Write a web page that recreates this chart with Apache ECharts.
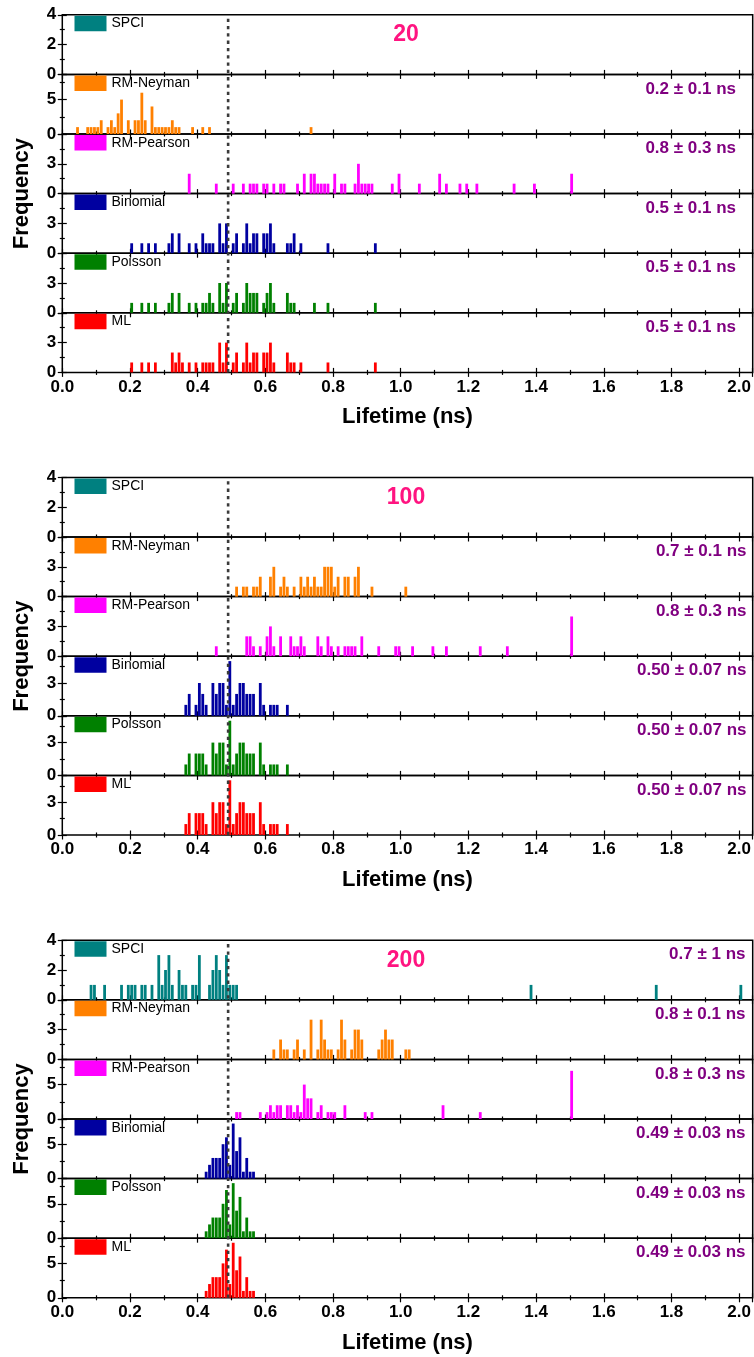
<!DOCTYPE html>
<html>
<head>
<meta charset="utf-8">
<script src="https://cdn.jsdelivr.net/npm/echarts@6/dist/echarts.min.js"></script>
<style>
  html, body { margin: 0; padding: 0; background: #fff; }
  #chart { width: 754px; height: 1357px; }
</style>
</head>
<body>
<div id="chart"></div>
<script>
// Lifetime histograms (bin width 0.01 ns) for six fitting methods at three photon counts.
const methods = ['SPCI', 'RM-Neyman', 'RM-Pearson', 'Binomial', 'Poisson', 'ML'];
const methodColors = ['#008080', '#FF8000', '#FF00FF', '#0000A0', '#008000', '#FF0000'];
const photonCounts = ['20', '100', '200'];
const xTickStep = 0.2;
const xMaxValue = 2.04;
const refLifetime = 0.49;

// [lifetime bin centre (ns), frequency]
const spci20 = [];
const neyman20 = [[0.045,1],[0.075,1],[0.085,1],[0.095,1],[0.105,1],[0.115,2],[0.135,1],[0.145,2],[0.155,1],[0.165,3],[0.175,5],[0.195,2],[0.215,2],[0.225,2],[0.235,6],[0.245,2],[0.265,4],[0.275,1],[0.285,1],[0.295,1],[0.305,1],[0.315,1],[0.325,2],[0.335,1],[0.345,1],[0.385,1],[0.415,1],[0.435,1],[0.735,1]];
const pearson20 = [[0.375,2],[0.455,1],[0.505,1],[0.535,1],[0.555,1],[0.565,1],[0.575,1],[0.595,1],[0.605,1],[0.625,1],[0.645,1],[0.655,1],[0.695,1],[0.715,2],[0.735,2],[0.745,2],[0.755,1],[0.765,1],[0.775,1],[0.785,1],[0.805,2],[0.825,1],[0.835,1],[0.865,1],[0.875,3],[0.885,1],[0.895,1],[0.905,1],[0.915,1],[0.975,1],[0.995,2],[1.055,1],[1.115,2],[1.135,1],[1.175,1],[1.195,1],[1.225,1],[1.335,1],[1.395,1],[1.505,2]];
const binom20 = [[0.205,1],[0.235,1],[0.255,1],[0.275,1],[0.315,1],[0.325,2],[0.345,2],[0.375,1],[0.395,1],[0.415,2],[0.425,1],[0.435,1],[0.445,1],[0.465,3],[0.475,1],[0.485,3],[0.505,1],[0.515,2],[0.535,1],[0.545,3],[0.555,1],[0.565,2],[0.575,2],[0.595,2],[0.605,2],[0.615,3],[0.625,1],[0.665,1],[0.675,1],[0.685,2],[0.705,1],[0.785,1],[0.925,1]];
const poisson20 = [[0.205,1],[0.235,1],[0.255,1],[0.275,1],[0.315,1],[0.325,2],[0.345,2],[0.375,1],[0.395,1],[0.415,1],[0.425,1],[0.435,2],[0.445,1],[0.465,3],[0.475,1],[0.485,3],[0.505,1],[0.515,2],[0.535,1],[0.545,3],[0.555,2],[0.565,2],[0.575,2],[0.595,1],[0.605,2],[0.615,3],[0.625,1],[0.665,2],[0.675,1],[0.685,1],[0.745,1],[0.785,1],[0.925,1]];
const ml20 = [[0.205,1],[0.235,1],[0.255,1],[0.275,1],[0.325,2],[0.335,1],[0.345,2],[0.355,1],[0.375,1],[0.395,1],[0.415,1],[0.425,1],[0.435,1],[0.445,1],[0.465,3],[0.475,1],[0.485,3],[0.505,1],[0.515,2],[0.535,1],[0.545,3],[0.555,1],[0.565,2],[0.575,2],[0.595,2],[0.605,2],[0.615,3],[0.625,1],[0.665,2],[0.675,1],[0.685,1],[0.705,1],[0.785,1],[0.925,1]];

const spci100 = [];
const neyman100 = [[0.515,1],[0.535,1],[0.545,1],[0.565,1],[0.575,1],[0.585,2],[0.615,2],[0.625,3],[0.645,1],[0.655,2],[0.665,1],[0.685,1],[0.705,2],[0.715,1],[0.725,2],[0.735,1],[0.745,2],[0.755,1],[0.765,1],[0.775,3],[0.785,3],[0.795,3],[0.805,1],[0.815,2],[0.835,2],[0.845,2],[0.865,2],[0.875,3],[0.915,1],[1.015,1]];
const pearson100 = [[0.455,1],[0.545,2],[0.555,2],[0.565,1],[0.585,1],[0.605,2],[0.615,3],[0.625,1],[0.645,2],[0.675,2],[0.685,1],[0.695,1],[0.705,2],[0.715,1],[0.755,2],[0.765,1],[0.785,2],[0.795,1],[0.815,1],[0.835,1],[0.845,1],[0.855,1],[0.865,1],[0.885,2],[0.935,1],[0.985,1],[0.995,1],[1.035,1],[1.095,1],[1.135,1],[1.235,1],[1.315,1],[1.505,4]];
const binom100 = [[0.365,1],[0.375,2],[0.395,1],[0.405,3],[0.415,2],[0.425,1],[0.445,3],[0.455,2],[0.465,3],[0.475,3],[0.485,1],[0.495,5],[0.505,1],[0.515,2],[0.525,3],[0.535,3],[0.545,2],[0.555,2],[0.565,2],[0.585,3],[0.595,1],[0.615,1],[0.625,1],[0.635,1],[0.665,1]];
const poisson100 = [[0.365,1],[0.375,2],[0.395,2],[0.405,2],[0.415,2],[0.425,1],[0.445,3],[0.455,2],[0.465,3],[0.475,3],[0.485,1],[0.495,5],[0.505,1],[0.515,2],[0.525,3],[0.535,3],[0.545,2],[0.555,2],[0.565,2],[0.585,3],[0.595,1],[0.615,1],[0.625,1],[0.635,1],[0.665,1]];
const ml100 = [[0.365,1],[0.375,2],[0.395,2],[0.405,2],[0.415,2],[0.425,1],[0.445,3],[0.455,2],[0.465,3],[0.475,3],[0.485,1],[0.495,5],[0.505,1],[0.515,2],[0.525,3],[0.535,3],[0.545,2],[0.555,2],[0.565,2],[0.585,3],[0.595,1],[0.615,1],[0.625,1],[0.635,1],[0.665,1]];

const spci200 = [[0.085,1],[0.095,1],[0.125,1],[0.175,1],[0.195,1],[0.205,1],[0.215,1],[0.235,1],[0.245,1],[0.265,1],[0.285,3],[0.295,1],[0.305,2],[0.315,3],[0.325,1],[0.345,2],[0.355,1],[0.365,1],[0.385,1],[0.395,1],[0.405,3],[0.435,1],[0.445,2],[0.455,3],[0.465,2],[0.475,1],[0.485,3],[0.495,1],[0.505,1],[0.515,1],[1.385,1],[1.755,1],[2.005,1]];
const neyman200 = [[0.625,1],[0.645,2],[0.655,1],[0.665,1],[0.685,1],[0.695,2],[0.715,1],[0.735,4],[0.755,1],[0.765,4],[0.775,2],[0.785,1],[0.795,1],[0.815,1],[0.825,4],[0.835,2],[0.855,1],[0.865,3],[0.875,3],[0.885,2],[0.935,1],[0.945,2],[0.955,3],[0.965,2],[0.975,2],[1.015,1],[1.025,1]];
const pearson200 = [[0.515,1],[0.525,1],[0.585,1],[0.605,1],[0.615,2],[0.625,1],[0.635,2],[0.645,2],[0.665,2],[0.675,2],[0.685,1],[0.695,2],[0.705,1],[0.715,5],[0.725,3],[0.735,3],[0.755,1],[0.765,2],[0.785,1],[0.795,1],[0.805,1],[0.835,2],[0.895,1],[0.915,1],[1.125,2],[1.235,1],[1.505,7]];
const binom200 = [[0.425,1],[0.435,2],[0.445,3],[0.455,3],[0.465,3],[0.475,5],[0.485,6],[0.495,2],[0.505,8],[0.515,4],[0.525,6],[0.535,1],[0.545,3],[0.555,1],[0.565,1]];
const poisson200 = [[0.425,1],[0.435,2],[0.445,3],[0.455,3],[0.465,3],[0.475,5],[0.485,7],[0.495,2],[0.505,8],[0.515,4],[0.525,6],[0.535,1],[0.545,3],[0.555,1],[0.565,1]];
const ml200 = [[0.425,1],[0.435,2],[0.445,3],[0.455,3],[0.465,3],[0.475,5],[0.485,7],[0.495,2],[0.505,8],[0.515,4],[0.525,6],[0.535,1],[0.545,3],[0.555,1],[0.565,1]];

const panelData = [
  [spci20, neyman20, pearson20, binom20, poisson20, ml20],
  [spci100, neyman100, pearson100, binom100, poisson100, ml100],
  [spci200, neyman200, pearson200, binom200, poisson200, ml200]
];

// Fitted lifetimes, one per method (empty where no result is quoted)
const fitText = [
  ['', '0.2 ± 0.1 ns', '0.8 ± 0.3 ns', '0.5 ± 0.1 ns', '0.5 ± 0.1 ns', '0.5 ± 0.1 ns'],
  ['', '0.7 ± 0.1 ns', '0.8 ± 0.3 ns', '0.50 ± 0.07 ns', '0.50 ± 0.07 ns', '0.50 ± 0.07 ns'],
  ['0.7 ± 1 ns', '0.8 ± 0.1 ns', '0.8 ± 0.3 ns', '0.49 ± 0.03 ns', '0.49 ± 0.03 ns', '0.49 ± 0.03 ns']
];

// Frequency axis ranges and tick steps per sub-plot
const yMax = [
  [4, 8.66, 6, 6, 6, 6],
  [4, 6, 6, 5.45, 5.45, 5.45],
  [4, 6, 8.66, 8.66, 8.66, 8.66]
];
const yStep = [
  [2, 5, 3, 3, 3, 3],
  [2, 3, 3, 3, 3, 3],
  [2, 3, 5, 5, 5, 5]
];

// ---- layout ----
const FONT = '"Liberation Sans", Arial, Helvetica, sans-serif';
const plotLeft = 62.3;
const plotWidth = 690.4;
const panelTops = [14.8, 477.4, 940.2];
const panelHeight = 357.6;
const subHeight = panelHeight / 6;
const fitRight = [736, 746.5, 745.5];
const countLabelX = 406;

const grids = [], xAxes = [], yAxes = [], series = [], legends = [], graphics = [];

const tickStyle = { color: '#000', width: 1.2 };

panelData.forEach((panel, pi) => {
  const panelTop = panelTops[pi];
  panel.forEach((bins, mi) => {
    const g = grids.length;
    const top = panelTop + mi * subHeight;
    const isBottom = mi === methods.length - 1;
    grids.push({
      left: plotLeft, top: top, width: plotWidth, height: subHeight,
      show: true, borderColor: '#000', borderWidth: 1.5, backgroundColor: 'transparent'
    });
    const xBase = {
      type: 'value', gridIndex: g, min: 0, max: xMaxValue, interval: xTickStep,
      axisLine: { show: false },
      axisTick: { show: true, inside: true, length: 4.5, lineStyle: tickStyle },
      minorTick: { show: true, splitNumber: 2, length: 2.5, lineStyle: tickStyle },
      splitLine: { show: false }, minorSplitLine: { show: false }
    };
    const xIndex = xAxes.length;
    xAxes.push(Object.assign({}, xBase, {
      position: 'bottom',
      axisLabel: {
        show: isBottom, showMaxLabel: false, margin: 6,
        formatter: v => v.toFixed(1),
        fontFamily: FONT, fontWeight: 'bold', fontSize: 17, color: '#000'
      }
    }));
    xAxes.push(Object.assign({}, xBase, { position: 'top', axisLabel: { show: false } }));
    const yBase = {
      type: 'value', gridIndex: g, min: 0, max: yMax[pi][mi], interval: yStep[pi][mi],
      axisLine: { show: false },
      axisTick: { show: true, inside: true, length: 4.5, lineStyle: tickStyle },
      minorTick: { show: true, splitNumber: 2, length: 2.5, lineStyle: tickStyle },
      splitLine: { show: false }, minorSplitLine: { show: false }
    };
    const yIndex = yAxes.length;
    yAxes.push(Object.assign({}, yBase, {
      position: 'left',
      axisLabel: {
        show: true, showMaxLabel: mi === 0, margin: 6,
        formatter: v => (Number.isInteger(v) ? String(v) : ''),
        fontFamily: FONT, fontWeight: 'bold', fontSize: 17, color: '#000'
      }
    }));
    yAxes.push(Object.assign({}, yBase, { position: 'right', axisLabel: { show: false } }));

    series.push({
      type: 'bar', name: methods[mi],
      xAxisIndex: xIndex, yAxisIndex: yIndex,
      data: bins, barWidth: 2.8,
      itemStyle: { color: methodColors[mi] },
      silent: true
    });

    legends.push({
      data: [methods[mi]], left: plotLeft + 12.2, top: top + 1,
      itemWidth: 32, itemHeight: 15.5, icon: 'rect', padding: 0,
      selectedMode: false,
      textStyle: { fontFamily: FONT, fontSize: 14, color: '#000' }
    });

    if (fitText[pi][mi]) {
      graphics.push({
        type: 'text', z: 100,
        style: {
          text: fitText[pi][mi], x: fitRight[pi], y: top + 14.5,
          align: 'right', verticalAlign: 'middle',
          font: 'bold 17px ' + FONT, fill: '#800080'
        }
      });
    }
  });

  // full-height overlay per panel: axis titles and the reference lifetime line
  const og = grids.length;
  grids.push({ left: plotLeft, top: panelTop, width: plotWidth, height: panelHeight, show: false });
  const oxIndex = xAxes.length;
  xAxes.push({
    type: 'value', gridIndex: og, min: 0, max: xMaxValue,
    axisLine: { show: false }, axisTick: { show: false }, axisLabel: { show: false },
    splitLine: { show: false },
    name: 'Lifetime (ns)', nameLocation: 'middle', nameGap: 34,
    nameTextStyle: { fontFamily: FONT, fontWeight: 'bold', fontSize: 22, color: '#000' }
  });
  const oyIndex = yAxes.length;
  yAxes.push({
    type: 'value', gridIndex: og, min: 0, max: 1,
    axisLine: { show: false }, axisTick: { show: false }, axisLabel: { show: false },
    splitLine: { show: false },
    name: 'Frequency', nameLocation: 'middle', nameGap: 29, nameRotate: 90,
    nameTextStyle: { fontFamily: FONT, fontWeight: 'bold', fontSize: 22, color: '#000' }
  });
  series.push({
    type: 'line', xAxisIndex: oxIndex, yAxisIndex: oyIndex,
    data: [[refLifetime, 0], [refLifetime, 1]], symbol: 'none', silent: true, z: 20,
    lineStyle: { color: '#3a3a3a', width: 2.6, type: [3.3, 4], cap: 'butt' }
  });

  graphics.push({
    type: 'text', z: 100,
    style: {
      text: photonCounts[pi], x: countLabelX, y: panelTop + 20,
      align: 'center', verticalAlign: 'middle',
      font: 'bold 23px ' + FONT, fill: '#FF1480'
    }
  });
});

const chart = echarts.init(document.getElementById('chart'), null, { renderer: 'canvas' });
chart.setOption({
  animation: false,
  backgroundColor: '#fff',
  grid: grids,
  xAxis: xAxes,
  yAxis: yAxes,
  legend: legends,
  series: series,
  graphic: graphics
});
</script>
</body>
</html>
